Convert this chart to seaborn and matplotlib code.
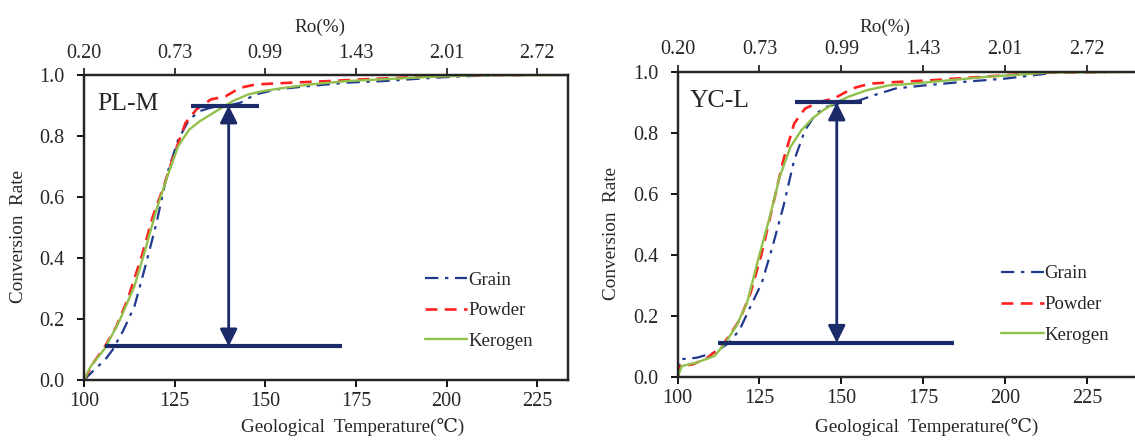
import numpy as np
import pandas as pd
import matplotlib
matplotlib.use("Agg")
import matplotlib.pyplot as plt
import seaborn as sns

# ---------------- data ----------------
# PL-M
pl_powder_T = [100, 102.8, 105.8, 108.9, 111.9, 115.9, 119.0, 122.0, 125.0, 128.0, 131.0, 135.0, 139.0, 143.1, 147.2, 157.3, 167.3, 177.4, 187.5, 197.6, 213.7, 221.0]
pl_powder_C = [0.0, 0.06, 0.11, 0.175, 0.26, 0.405, 0.537, 0.635, 0.745, 0.843, 0.887, 0.92, 0.93, 0.958, 0.969, 0.975, 0.98, 0.986, 0.991, 0.997, 1.0, 1.0]
pl_kerogen_T = [100, 101.8, 105.8, 109.9, 113.9, 116.9, 120.0, 123.0, 126.0, 129.0, 132.0, 135.0, 138.1, 141.1, 145.2, 149.2, 155.2, 162.3, 172.4, 182.5, 197.6, 207.7, 233.5]
pl_kerogen_C = [0.0, 0.044, 0.104, 0.197, 0.307, 0.427, 0.559, 0.668, 0.767, 0.821, 0.849, 0.871, 0.893, 0.915, 0.936, 0.947, 0.958, 0.969, 0.98, 0.986, 0.995, 0.999, 1.0]
pl_grain_T = [100, 102.8, 105.8, 107.9, 110.9, 113.9, 116.9, 120.0, 123.0, 126.0, 129.0, 132.0, 135.0, 139.0, 143.1, 147.2, 153.2, 162.3, 172.4, 182.5, 192.5, 202.6, 212.7]
pl_grain_C = [0.0, 0.033, 0.066, 0.099, 0.164, 0.241, 0.372, 0.515, 0.679, 0.789, 0.854, 0.882, 0.893, 0.898, 0.909, 0.936, 0.953, 0.964, 0.975, 0.98, 0.988, 0.995, 0.999]

# YC-L
yc_powder_T = [100, 100.8, 104.6, 109.1, 113.5, 115.7, 119.0, 122.3, 125.7, 129.0, 132.3, 135.6, 138.9, 143.4, 147.8, 153.3, 158.8, 166.6, 177.7, 188.7, 199.8, 210.8, 230.8]
yc_powder_C = [0.0, 0.036, 0.041, 0.063, 0.101, 0.134, 0.188, 0.276, 0.406, 0.559, 0.711, 0.831, 0.88, 0.902, 0.913, 0.946, 0.962, 0.967, 0.973, 0.981, 0.989, 0.997, 1.0]
yc_kerogen_T = [100, 101.3, 105.8, 111.3, 114.6, 117.9, 121.2, 124.6, 127.9, 131.2, 134.5, 137.8, 141.2, 144.5, 147.8, 152.2, 157.7, 164.4, 172.1, 183.2, 194.2, 205.3, 212.9, 239.5]
yc_kerogen_C = [0.0, 0.036, 0.047, 0.069, 0.112, 0.167, 0.243, 0.385, 0.515, 0.657, 0.755, 0.809, 0.848, 0.875, 0.897, 0.919, 0.94, 0.956, 0.962, 0.973, 0.984, 0.992, 0.998, 1.0]
yc_grain_T = [100, 100.8, 105.8, 111.3, 115.7, 119.0, 122.3, 125.7, 129.0, 132.3, 135.6, 138.9, 142.3, 145.6, 150.0, 155.5, 160.0, 166.6, 175.4, 186.5, 199.8, 210.8, 214.2]
yc_grain_C = [0.0, 0.058, 0.063, 0.08, 0.112, 0.156, 0.232, 0.308, 0.428, 0.559, 0.711, 0.809, 0.864, 0.886, 0.899, 0.907, 0.924, 0.946, 0.956, 0.967, 0.978, 0.992, 0.997]

temp_ticks = [100, 125, 150, 175, 200, 225]
ro_labels = ["0.20", "0.73", "0.99", "1.43", "2.01", "2.72"]
y_ticks = [0.0, 0.2, 0.4, 0.6, 0.8, 1.0]

# annotation guides: (x_start, x_end, y) for lower/upper bars, arrow x
pl_lower = (105.8, 171.2, 0.11)
pl_upper = (129.5, 148.2, 0.90)
pl_arrow_x = 139.9
yc_lower = (112.2, 184.3, 0.112)
yc_upper = (136.0, 156.4, 0.90)
yc_arrow_x = 148.6

# ---------------- style ----------------
sns.set_style("ticks")
plt.rcParams['font.family'] = ['Liberation Serif', 'DejaVu Serif']

C_GRAIN = "#1f3a8f"
C_POWDER = "#ff2020"
C_KER = "#92c04c"
C_NAVY = "#1b2a68"

TICK_FS = 14.5
LABEL_FS = 13.8

fig = plt.figure(figsize=(11.35, 4.4), dpi=100)
axL = fig.add_axes([0.074, 0.1364, 0.4265, 0.6931])
axR = fig.add_axes([0.597, 0.1432, 0.4025, 0.6932])


def frame(T, C, name):
    return pd.DataFrame({"T": T, "C": C, "Sample": name})


def draw(ax, grain, powder, ker, xmax, label, lower, upper, arrow_x,
         xlab_pos, ylab_pos, ro_pos, leg_pos, right_spine=True):
    g = frame(*grain, "Grain")
    p = frame(*powder, "Powder")
    k = frame(*ker, "Kerogen")
    sns.lineplot(data=g, x="T", y="C", ax=ax, color=C_GRAIN, lw=1.6,
                 estimator=None, sort=False, label="Grain")
    ax.lines[-1].set_linestyle((0, (6, 3, 1.5, 3)))
    sns.lineplot(data=p, x="T", y="C", ax=ax, color=C_POWDER, lw=1.9,
                 estimator=None, sort=False, label="Powder")
    ax.lines[-1].set_linestyle((0, (4.5, 2.8)))
    sns.lineplot(data=k, x="T", y="C", ax=ax, color=C_KER, lw=1.7,
                 estimator=None, sort=False, label="Kerogen")

    # guide bars and double arrow
    ax.hlines(lower[2], lower[0], lower[1], color=C_NAVY, lw=3, zorder=5)
    ax.hlines(upper[2], upper[0], upper[1], color=C_NAVY, lw=3, zorder=5)
    ax.annotate("", xy=(arrow_x, upper[2]), xytext=(arrow_x, lower[2]),
                arrowprops=dict(arrowstyle="<|-|>", color=C_NAVY, lw=2,
                                mutation_scale=26, shrinkA=0, shrinkB=0),
                zorder=6)

    ax.set_xlim(100, xmax)
    ax.set_ylim(0, 1.0)
    ax.set_xticks(temp_ticks)
    ax.set_yticks(y_ticks)
    ax.set_yticklabels([f"{v:.1f}" for v in y_ticks])
    ax.tick_params(axis="both", labelsize=TICK_FS, direction="out", length=5, width=1.3, color="black")
    ax.tick_params(axis="x", pad=4)
    ax.tick_params(axis="y", pad=9)
    ax.set_xlabel("Geological  Temperature(℃)", fontsize=LABEL_FS)
    ax.set_ylabel("Conversion  Rate", fontsize=LABEL_FS)
    ax.xaxis.set_label_coords(*xlab_pos)
    ax.yaxis.set_label_coords(*ylab_pos)
    for s in ax.spines.values():
        s.set_linewidth(1.6)
        s.set_color("black")
    ax.spines["right"].set_visible(right_spine)

    ax.text(0.027, 0.94, label, transform=ax.transAxes, fontsize=18.5, va="top", ha="left")

    ax.legend(loc="upper left", bbox_to_anchor=leg_pos, frameon=False, borderpad=0,
              borderaxespad=0, fontsize=13.5, handlelength=2.25, handletextpad=0.05,
              labelspacing=0.72)

    top = ax.twiny()
    top.set_xlim(ax.get_xlim())
    top.set_xticks(temp_ticks)
    top.set_xticklabels(ro_labels)
    top.tick_params(axis="x", labelsize=TICK_FS, direction="out", length=5, width=1.3, pad=4)
    top.set_xlabel("Ro(%)", fontsize=LABEL_FS)
    top.xaxis.set_label_coords(*ro_pos)
    for s in top.spines.values():
        s.set_linewidth(1.6)
    top.spines["right"].set_visible(right_spine)


draw(axL, (pl_grain_T, pl_grain_C), (pl_powder_T, pl_powder_C), (pl_kerogen_T, pl_kerogen_C),
     233.5, "PL-M", pl_lower, pl_upper, pl_arrow_x,
     xlab_pos=(0.554, -0.125), ylab_pos=(-0.118, 0.47), ro_pos=(0.488, 1.141),
     leg_pos=(0.705, 0.356))
draw(axR, (yc_grain_T, yc_grain_C), (yc_powder_T, yc_powder_C), (yc_kerogen_T, yc_kerogen_C),
     239.5, "YC-L", yc_lower, yc_upper, yc_arrow_x,
     xlab_pos=(0.545, -0.134), ylab_pos=(-0.127, 0.47), ro_pos=(0.453, 1.131),
     leg_pos=(0.709, 0.366), right_spine=False)

fig.savefig("out.png", dpi=100)
